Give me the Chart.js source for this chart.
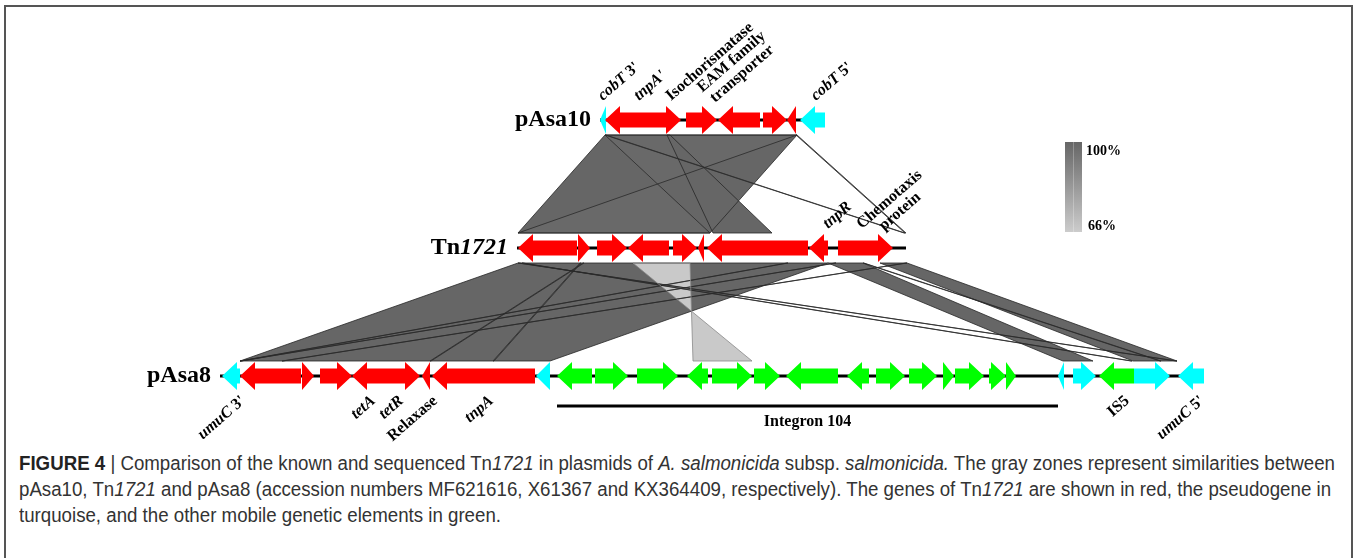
<!DOCTYPE html>
<html lang="en">
<head>
<meta charset="UTF-8">
<title>Tn1721 comparison</title>
<script src="https://cdn.jsdelivr.net/npm/chart.js@4.4.0/dist/chart.umd.min.js"></script>
<style>
    body {
        margin: 0;
        background: #fff;
        width: 1357px;
        height: 558px;
        overflow: hidden;
        position: relative;
    }
    #fig {
        position: absolute;
        left: 0;
        top: 0;
    }
    .frame {
        position: absolute;
        left: 4px;
        top: 5px;
        width: 1345px;
        height: 700px;
        border: 2px solid #555;
        pointer-events: none;
    }
    .caption {
        position: absolute;
        left: 19px;
        top: 450px;
        font-family: 'Liberation Sans Narrow', 'Liberation Sans', Arial, sans-serif;
        font-size: 20px;
        line-height: 26px;
        color: #333;
        white-space: nowrap;
        transform-origin: 0 0;
    }
    .caption b { color: #222; }
</style>
</head>
<body>
<canvas id="fig" width="1357" height="445"></canvas>
<div class="caption" id="caption">
    <div><span id="capLine1"><b>FIGURE 4</b> | Comparison of the known and sequenced Tn<i>1721</i> in plasmids of <i>A. salmonicida</i> subsp. <i>salmonicida.</i> The gray zones represent similarities between</span></div>
    <div>pAsa10, Tn<i>1721</i> and pAsa8 (accession numbers MF621616, X61367 and KX364409, respectively). The genes of Tn<i>1721</i> are shown in red, the pseudogene in</div>
    <div>turquoise, and the other mobile genetic elements in green.</div>
</div>
<div class="frame"></div>

<script>
// genes: [start, end, strand, type]   type: t = Tn1721 gene, p = pseudogene, m = other mobile element
const pAsa10Genes = [
    [600, 606, -1, 'p'],
    [605, 666, -1, 't'],
    [666, 681, 1, 't'],
    [686, 717, 1, 't'],
    [718, 760, -1, 't'],
    [763, 787, 1, 't'],
    [787, 796, -1, 't'],
    [800, 825, -1, 'p']
];
const tn1721Genes = [
    [518, 577, -1, 't'],
    [578, 590, 1, 't'],
    [597, 627, 1, 't'],
    [628, 669, -1, 't'],
    [673, 697, 1, 't'],
    [698, 704, -1, 't'],
    [707, 808, -1, 't'],
    [809, 828, -1, 't'],
    [838, 893, 1, 't']
];
const pAsa8Genes = [
    [222, 240, -1, 'p'],
    [240, 301, -1, 't'],
    [302, 314, 1, 't'],
    [320, 352, 1, 't'],
    [352, 405, -1, 't'],
    [405, 420, 1, 't'],
    [422, 430, -1, 't'],
    [432, 535, -1, 't'],
    [536, 550, -1, 'p'],
    [557, 592, -1, 'm'],
    [595, 628, 1, 'm'],
    [637, 678, 1, 'm'],
    [687, 708, -1, 'm'],
    [712, 752, 1, 'm'],
    [754, 780, 1, 'm'],
    [786, 838, -1, 'm'],
    [847, 869, -1, 'm'],
    [876, 905, 1, 'm'],
    [909, 937, 1, 'm'],
    [943, 954, 1, 'm'],
    [955, 984, 1, 'm'],
    [989, 1006, 1, 'm'],
    [1006, 1016, 1, 'm'],
    [1058, 1064, -1, 'p'],
    [1073, 1096, 1, 'p'],
    [1099, 1134, -1, 'm'],
    [1134, 1170, 1, 'p'],
    [1178, 1204, -1, 'p']
];

// sequence extents (backbone line)
const pAsa10Span = [600, 825];
const tn1721Span = [517, 906];
const pAsa8Span = [220, 1204];

// similarity hits: [upperStart, upperEnd, lowerStart, lowerEnd, identity %]
// lowerStart > lowerEnd means an inverted match
const hitsPAsa10Tn = [
    [605, 797, 518, 710, 100],
    [605, 797, 710, 518, 99],
    [667, 670, 713, 772, 100],
    [605, 606, 904, 905, 98],
    [796, 797, 905, 906, 98]
];
const hitsTnPAsa8 = [
    [518, 828, 240, 550, 100],
    [828, 863, 1063, 1093, 100],
    [880, 907, 1133, 1177, 100],
    [583, 584, 430, 431, 99],
    [580, 581, 493, 494, 99],
    [787, 788, 240, 241, 99],
    [835, 836, 240, 241, 99],
    [906, 907, 282, 283, 99],
    [518, 519, 1176, 1177, 99],
    [522, 523, 1131, 1132, 99],
    [863, 864, 1160, 1161, 99],
    [633, 690, 752, 693, 67]
];
const identityRange = [100, 66];

// gene labels: [position, lines of [text, italic] parts]
const pAsa10Labels = [
    [603, [[['cobT', 1], [" 3'", 0]]]],
    [639, [[["tnpA'", 1]]]],
    [671, [[['Isochorismatase', 0]]]],
    [715, [[['EAM family', 0]], [['transporter', 0]]]],
    [816, [[['cobT', 1], [" 5'", 0]]]]
];
const tn1721Labels = [
    [828, [[['tnpR', 1]]]],
    [884, [[['Chemotaxis', 0]], [['protein', 0]]]]
];
const pAsa8Labels = [
    [246, [['umuC', 1], [" 3'", 0]]],
    [376, [['tetA', 1]]],
    [404, [['tetR', 1]]],
    [438, [['Relaxase', 0]]],
    [494, [['tnpA', 1]]],
    [1130, [['IS5', 0]]],
    [1205, [['umuC', 1], [" 5'", 0]]]
];
const trackNames = [
    [['pAsa10', 0]],
    [['Tn', 0], ['1721', 1]],
    [['pAsa8', 0]]
];
const integron = [557, 1058, 'Integron 104'];

// layout
const ROW_Y = [120, 248, 376];
const ANGLE = 41 * Math.PI / 180;
const HEAD_H = 14, BODY_H = 7.5, HEAD_L = 15, ZONE_GAP = 15;
const geneColors = { t: '#ff0000', p: '#00ffff', m: '#00ff00' };
const SERIF = '"Liberation Serif", "Times New Roman", serif';

function serifFont(size, italic) {
    return (italic ? 'italic ' : '') + 'bold ' + size + 'px ' + SERIF;
}

function identityGray(id) {
    const t = Math.max(0, Math.min(1, (identityRange[0] - id) / (identityRange[0] - identityRange[1])));
    return Math.round(0x66 + t * (0xcc - 0x66));
}

// draw text made of italic / upright parts, aligned around local x = 0
function richText(ctx, parts, align, size) {
    const widths = parts.map(p => { ctx.font = serifFont(size, p[1]); return ctx.measureText(p[0]).width; });
    const total = widths.reduce((a, b) => a + b, 0);
    let x = align === 'left' ? 0 : align === 'right' ? -total : -total / 2;
    ctx.textAlign = 'left';
    parts.forEach((p, i) => {
        ctx.font = serifFont(size, p[1]);
        ctx.fillText(p[0], x, 0);
        x += widths[i];
    });
    return total;
}

function partsWidth(ctx, parts, size) {
    return parts.reduce((s, p) => { ctx.font = serifFont(size, p[1]); return s + ctx.measureText(p[0]).width; }, 0);
}

const figurePlugin = {
    id: 'figure',
    afterDraw(chart) {
        const ctx = chart.ctx;
        const X = v => chart.scales.x.getPixelForValue(v);
        const Y = v => chart.scales.y.getPixelForValue(v);

        // similarity zones
        function drawHits(hits, yTop, yBot) {
            const polys = hits.map(h => {
                const [a1, a2, b1, b2, id] = h;
                return { pts: [[X(a1), yTop], [X(a2), yTop], [X(b2), yBot], [X(b1), yBot]], g: identityGray(id) };
            });
            polys.forEach(p => {
                ctx.beginPath();
                p.pts.forEach((q, i) => i ? ctx.lineTo(q[0], q[1]) : ctx.moveTo(q[0], q[1]));
                ctx.closePath();
                ctx.fillStyle = `rgb(${p.g},${p.g},${p.g})`;
                ctx.fill();
            });
            polys.forEach(p => {
                ctx.beginPath();
                p.pts.forEach((q, i) => i ? ctx.lineTo(q[0], q[1]) : ctx.moveTo(q[0], q[1]));
                ctx.closePath();
                const s = Math.max(0, p.g - 0x40);
                ctx.strokeStyle = `rgb(${s},${s},${s})`;
                ctx.lineWidth = 0.8;
                ctx.stroke();
            });
        }
        ctx.save();
        drawHits(hitsPAsa10Tn, Y(ROW_Y[0]) + ZONE_GAP, Y(ROW_Y[1]) - ZONE_GAP);
        drawHits(hitsTnPAsa8, Y(ROW_Y[1]) + ZONE_GAP, Y(ROW_Y[2]) - ZONE_GAP);

        // tracks
        const tracks = [
            [pAsa10Genes, pAsa10Span],
            [tn1721Genes, tn1721Span],
            [pAsa8Genes, pAsa8Span]
        ];
        tracks.forEach((tr, ti) => {
            const y = Y(ROW_Y[ti]);
            const [genes, span] = tr;
            ctx.strokeStyle = '#000';
            ctx.lineWidth = 3;
            ctx.beginPath();
            ctx.moveTo(X(span[0]), y);
            ctx.lineTo(X(span[1]), y);
            ctx.stroke();

            genes.forEach(g => {
                const x1 = X(g[0]), x2 = X(g[1]);
                const head = Math.min(HEAD_L, x2 - x1);
                ctx.beginPath();
                if (g[2] > 0) {
                    const hb = x2 - head;
                    ctx.moveTo(x1, y - BODY_H);
                    ctx.lineTo(hb, y - BODY_H);
                    ctx.lineTo(hb, y - HEAD_H);
                    ctx.lineTo(x2, y);
                    ctx.lineTo(hb, y + HEAD_H);
                    ctx.lineTo(hb, y + BODY_H);
                    ctx.lineTo(x1, y + BODY_H);
                } else {
                    const hb = x1 + head;
                    ctx.moveTo(x2, y - BODY_H);
                    ctx.lineTo(hb, y - BODY_H);
                    ctx.lineTo(hb, y - HEAD_H);
                    ctx.lineTo(x1, y);
                    ctx.lineTo(hb, y + HEAD_H);
                    ctx.lineTo(hb, y + BODY_H);
                    ctx.lineTo(x2, y + BODY_H);
                }
                ctx.closePath();
                ctx.fillStyle = geneColors[g[3]];
                ctx.fill();
            });

            // track name
            ctx.save();
            ctx.fillStyle = '#000';
            ctx.textBaseline = 'middle';
            ctx.translate(X(span[0]) - 9, y);
            richText(ctx, trackNames[ti], 'right', 24);
            ctx.restore();
        });

        // rotated labels above a track
        ctx.fillStyle = '#000';
        ctx.textBaseline = 'alphabetic';
        function topLabels(labels, rowY) {
            labels.forEach(l => {
                const lines = l[1];
                ctx.save();
                if (lines.length === 1) {
                    ctx.translate(X(l[0]), Y(rowY) - 19);
                    ctx.rotate(-ANGLE);
                    richText(ctx, lines[0], 'left', 16);
                } else {
                    ctx.translate(X(l[0]), Y(rowY) - 17);
                    ctx.rotate(-ANGLE);
                    const wB = partsWidth(ctx, lines[lines.length - 1], 16);
                    lines.forEach((parts, k) => {
                        const j = lines.length - 1 - k;
                        ctx.save();
                        ctx.translate(wB / 2, -j * 16);
                        richText(ctx, parts, 'center', 16);
                        ctx.restore();
                    });
                }
                ctx.restore();
            });
        }
        topLabels(pAsa10Labels, ROW_Y[0]);
        topLabels(tn1721Labels, ROW_Y[1]);

        pAsa8Labels.forEach(l => {
            ctx.save();
            ctx.translate(X(l[0]), Y(ROW_Y[2]) + 26);
            ctx.rotate(-ANGLE);
            richText(ctx, l[1], 'right', 16);
            ctx.restore();
        });

        // integron bracket
        const iy = Y(ROW_Y[2]) + 30;
        ctx.strokeStyle = '#000';
        ctx.lineWidth = 3;
        ctx.beginPath();
        ctx.moveTo(X(integron[0]), iy);
        ctx.lineTo(X(integron[1]), iy);
        ctx.stroke();
        ctx.save();
        ctx.translate((X(integron[0]) + X(integron[1])) / 2, iy + 20);
        richText(ctx, [[integron[2], 0]], 'center', 16);
        ctx.restore();

        // identity legend
        const lx = 1065, ly = 142, lw = 17, lh = 90;
        const g0 = identityGray(identityRange[0]), g1 = identityGray(identityRange[1]);
        const grad = ctx.createLinearGradient(0, ly, 0, ly + lh);
        grad.addColorStop(0, `rgb(${g0},${g0},${g0})`);
        grad.addColorStop(1, `rgb(${g1},${g1},${g1})`);
        ctx.fillStyle = grad;
        ctx.fillRect(lx, ly, lw, lh);
        ctx.fillStyle = 'rgba(255,255,255,0.25)';
        ctx.fillRect(lx + 8, ly, 1, lh);
        ctx.fillStyle = '#000';
        ctx.save();
        ctx.translate(lx + 21, ly + 13);
        richText(ctx, [[identityRange[0] + '%', 0]], 'left', 14);
        ctx.restore();
        ctx.save();
        ctx.translate(lx + 23, ly + lh - 2);
        richText(ctx, [[identityRange[1] + '%', 0]], 'left', 14);
        ctx.restore();

        ctx.restore();
    }
};

const chart = new Chart(document.getElementById('fig').getContext('2d'), {
    type: 'scatter',
    data: { datasets: [] },
    options: {
        responsive: false,
        animation: false,
        layout: { padding: 0 },
        plugins: { legend: { display: false }, tooltip: { enabled: false } },
        scales: {
            x: { type: 'linear', min: 0, max: 1357, display: false },
            y: { type: 'linear', min: 0, max: 445, reverse: true, display: false }
        }
    },
    plugins: [figurePlugin]
});

// squeeze the caption to the width of the original lines
const capLine = document.getElementById('capLine1');
const capW = capLine.getBoundingClientRect().width;
document.getElementById('caption').style.transform = 'scaleX(' + (1316 / capW) + ')';
</script>
</body>
</html>
